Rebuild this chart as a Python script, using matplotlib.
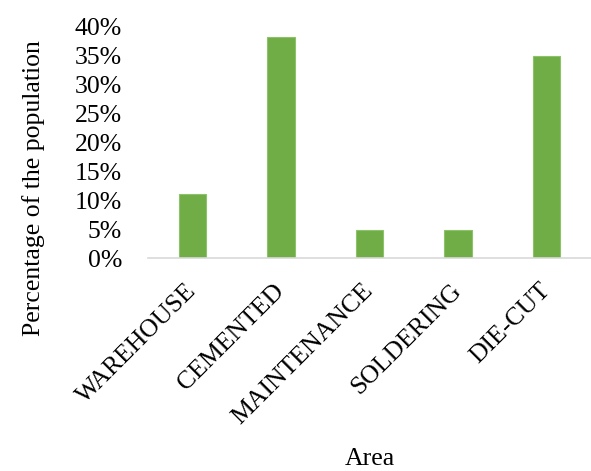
import matplotlib
matplotlib.use("Agg")
import matplotlib.pyplot as plt
from matplotlib.ticker import PercentFormatter

categories = ["WAREHOUSE", "CEMENTED", "MAINTENANCE", "SOLDERING", "DIE-CUT"]
values = [11.1, 38.2, 4.8, 4.8, 35.0]
yticks = [0, 5, 10, 15, 20, 25, 30, 35, 40]

plt.rcParams['font.family'] = ['Liberation Serif', 'DejaVu Serif']
FS = 18.5

fig = plt.figure(figsize=(5.91, 4.71), dpi=100)
ax = fig.add_axes([0.251, 0.452, 0.749, 0.491])
x = list(range(len(categories)))
ax.bar(x, values, width=0.31, color="#70ad47", edgecolor="#8cc36a", linewidth=0.8)
ax.set_xlim(-0.5, len(categories) - 0.5)
ax.set_ylim(0, 40)
ax.set_yticks(yticks)
ax.yaxis.set_major_formatter(PercentFormatter(decimals=0))
ax.set_xticks(x)
ax.set_xticklabels(categories, rotation=45, ha="right", va="center", rotation_mode="anchor")
ax.tick_params(axis="both", length=0, labelsize=FS, colors="black")
ax.tick_params(axis="y", pad=19)
ax.tick_params(axis="x", pad=21)
for s in ["top", "right", "left"]:
    ax.spines[s].set_visible(False)
ax.spines["bottom"].set_color("#d9d9d9")
ax.spines["bottom"].set_linewidth(1.2)
ax.set_ylabel("Percentage of the population", fontsize=FS, va="center")
ax.set_xlabel("Area", fontsize=FS, va="center")
ax.yaxis.set_label_coords(34 / 591, 1 - 188 / 471, transform=fig.transFigure)
ax.xaxis.set_label_coords(370 / 591, 1 - 459 / 471, transform=fig.transFigure)
fig.savefig("out.png", dpi=100)
